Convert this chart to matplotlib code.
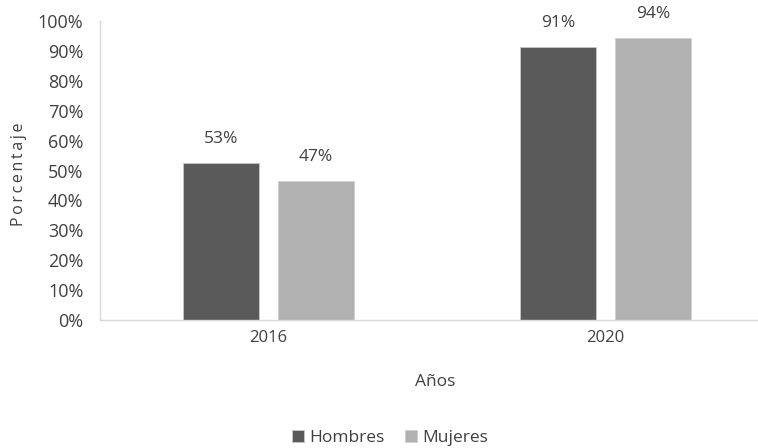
import matplotlib
matplotlib.use('Agg')
import matplotlib.pyplot as plt
import numpy as np

# data
years = ['2016', '2020']
hombres = [52.6, 91.3]
mujeres = [46.6, 94.3]
yticks = [0, 10, 20, 30, 40, 50, 60, 70, 80, 90, 100]

plt.rcParams['font.family'] = ['Open Sans', 'DejaVu Sans']
txt = '#404040'

fig = plt.figure(figsize=(7.58, 4.48), dpi=100)
ax = fig.add_axes([100/758, 128/448, 674/758, 299/448])

x = np.arange(len(years))
w = 0.223
off = 0.141
b1 = ax.bar(x - off, hombres, w, color='#5a5a5a', edgecolor='#c8c8c8', linewidth=0.6, label='Hombres')
b2 = ax.bar(x + off, mujeres, w, color='#b1b1b1', edgecolor='#d0d0d0', linewidth=0.6, label='Mujeres')

for bars, vals in ((b1, hombres), (b2, mujeres)):
    for b, v in zip(bars, vals):
        ax.annotate('{:.0f}%'.format(v), (b.get_x() + b.get_width()/2, v),
                    xytext=(0, 17), textcoords='offset points',
                    ha='center', va='center', fontsize=12.5, color=txt)

ax.set_xlim(-0.5, 1.5)
ax.set_ylim(0, 100)
ax.set_yticks(yticks)
ax.set_yticklabels(['{}%'.format(t) for t in yticks])
ax.set_xticks(x)
ax.set_xticklabels(years)
ax.tick_params(axis='y', length=0, pad=12, labelsize=13, labelcolor=txt)
ax.tick_params(axis='x', length=0, pad=7, labelsize=12, labelcolor=txt)

for s in ('top', 'right'):
    ax.spines[s].set_visible(False)
for s in ('left', 'bottom'):
    ax.spines[s].set_color('#d9d9d9')
    ax.spines[s].set_linewidth(1)

fig.text(19/758, 1 - 174/448, '\u2009'.join('Porcentaje'), rotation=90,
         ha='center', va='center', fontsize=11.5, color=txt)
fig.text(435/758, 1 - 382/448, 'Años', ha='center', va='center', fontsize=12.5, color=txt)

fig.legend(handles=[b1, b2], loc='center', bbox_to_anchor=(390/758, 1 - 438/448),
           ncol=2, frameon=False, fontsize=12.5, labelcolor=txt,
           handlelength=0.7, handleheight=0.7, handletextpad=0.3, columnspacing=1.15)

fig.savefig('out.png', dpi=100)
